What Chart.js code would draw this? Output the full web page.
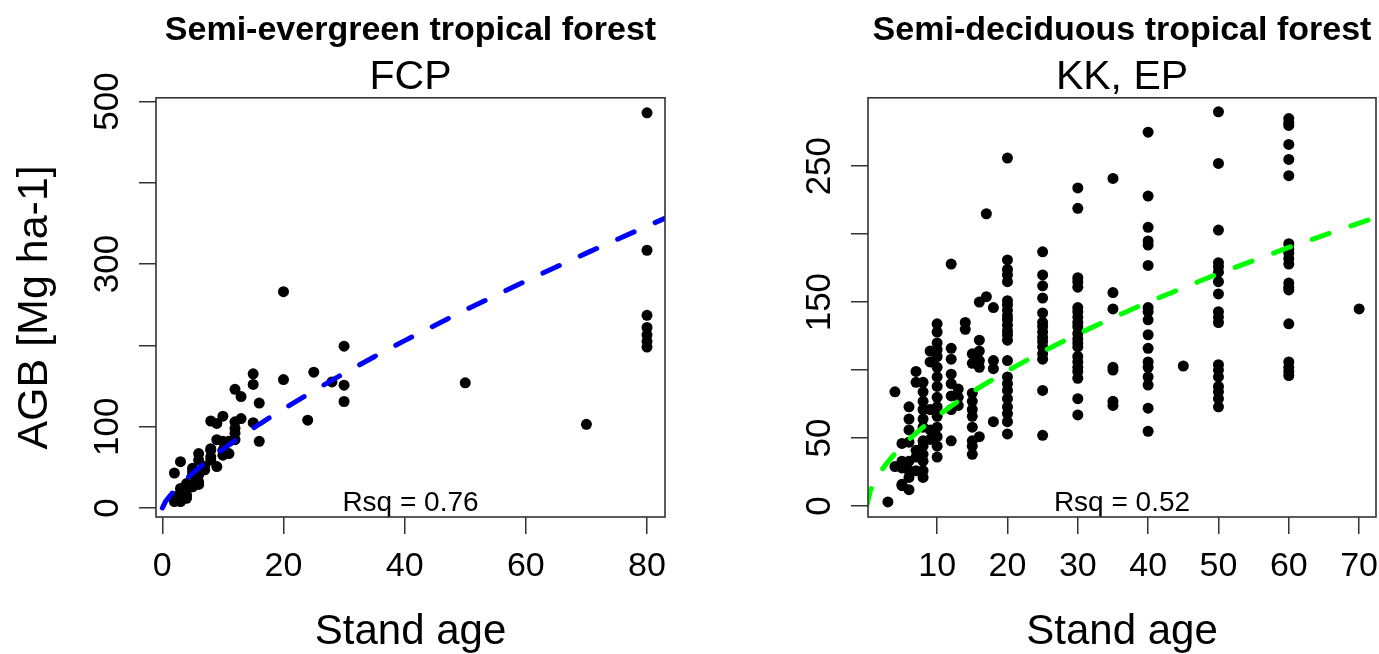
<!DOCTYPE html>
<html><head><meta charset="utf-8">
<script src="https://cdn.jsdelivr.net/npm/chart.js@4/dist/chart.umd.min.js"></script>
<style>
html,body{margin:0;padding:0;background:#fff;overflow:hidden;width:1379px;height:654px}
canvas{position:absolute;left:0;top:0}
</style></head><body>
<canvas id="c1" width="1440" height="654"></canvas>
<canvas id="c2" width="1440" height="654"></canvas>
<script>
// ---------- data: Semi-evergreen tropical forest (FCP) ----------
const fcpAge = [2,2,3,3,3,2,3,4,5,3,5,5,6,6,6,6,7,8,8,9,9,10,10,10,8,9,10,12,13,15,12,12,16,15,15,20,12,13,16,12,11,11,8,8,7,5,4,5,6,3,4,4,20,25,28,30,30,30,24,50,70,80,80,80,80,80,80,80];
const fcpAGB = [8,14,8,14,18,43,24,26,26,57,49,41,41,32,59,67,47,71,59,51,84,82,65,71,107,104,113,106,110,105,92,84,82,165,152,158,146,137,129,98,67,82,73,63,51,45,30,28,29,11,16,12,266,167,155,199,151,131,108,154,103,486,317,237,222,213,205,198];
const fcpFitAge = [0,0.5,1,2,3,4,6,8,10,13,16,20,25,30,35,40,50,60,70,80,85];
const fcpFitAGB = [0,7.5,12.7,21.4,29.1,36.2,49.1,61.1,72.3,88.1,103,121.9,144.2,165.6,186.1,205.9,243.5,279.2,313.5,346.7,362.8];
const fcpXTicks = [0,20,40,60,80];
const fcpYTicks = [0,100,200,300,400,500];
const fcpYTickLabels = ['0','100','','300','','500'];

// ---------- data: Semi-deciduous tropical forest (KK, EP) ----------
const kkAges = [3,4,5,6,7,8,9,10,12,13,14,15,16,17,18,20,25,30,35,40,45,50,60,70];
const kkAGB = [
  [3],
  [84,29],
  [46,33,28,16,15],
  [73,64,56,47,33,26,21,12],
  [99,91,41,36,26],
  [91,84,77,71,64,58,48,44,38,33,26,21],
  [114,106,71,56,49],
  [134,128,120,115,110,102,95,88,80,73,66,58,51,44,36],
  [178,116,108,97,90,81,71,48],
  [86,80,74],
  [135,130],
  [112,105,83,77,71,66,58,48,44,38],
  [150,122,114,107,102,51],
  [215,154],
  [146,107,101,62],
  [256,181,174,170,165,151,148,144,140,137,133,129,126,122,107,95,90,85,79,73,68,62,53],
  [187,170,162,153,142,135,132,128,124,121,117,112,108,85,52],
  [234,219,168,165,161,146,143,139,135,132,127,123,120,117,110,106,102,99,94,79,67],
  [241,157,145,102,100,77,74],
  [275,228,205,195,192,177,146,143,137,126,116,106,102,95,89,72,55],
  [103],
  [290,252,203,179,176,172,165,156,143,139,135,104,100,95,88,84,79,73],
  [285,282,280,266,255,243,193,189,186,182,178,164,161,159,134,106,102,99,96],
  [145]
];
const kkFitAge = [0,0.5,1,2,3,4,6,8,10,13,16,20,25,30,35,40,50,60,70,78];
const kkFitAGB = [0,11.3,17,25.6,32.5,38.5,48.9,58,66.1,77.2,87.2,99.5,113.6,126.5,138.6,150,171,190.2,208.1,222];
const kkXTicks = [10,20,30,40,50,60,70];
const kkYTicks = [0,50,100,150,200,250];
const kkYTickLabels = ['0','50','','150','','250'];

const FF = '"Liberation Sans", Arial, Helvetica, sans-serif';

const framePlugin = {
  id: 'frame',
  afterDatasetsDraw(chart, args, o) {
    const {ctx, chartArea: a} = chart;
    ctx.save();
    ctx.font = '28px ' + FF;
    ctx.fillStyle = '#000';
    ctx.textAlign = 'center';
    ctx.textBaseline = 'alphabetic';
    ctx.fillText(o.text, (a.left + a.right) / 2, a.bottom - 6);
    ctx.strokeStyle = '#333';
    ctx.lineWidth = 1.6;
    ctx.strokeRect(a.left, a.top, a.right - a.left, a.bottom - a.top);
    ctx.restore();
  }
};

function makeChart(id, c) {
  const pts = c.x.map((x, i) => ({x: x, y: c.y[i]}));
  const fit = c.fx.map((x, i) => ({x: x, y: c.fy[i]}));
  return new Chart(document.getElementById(id), {
    type: 'scatter',
    data: {datasets: [
      {type: 'line', data: fit, showLine: true, borderColor: c.lineColor, borderWidth: 5,
       borderDash: [18, 23], borderCapStyle: 'round', pointRadius: 0, fill: false,
       tension: 0, clip: 0, order: 0},
      {data: pts, backgroundColor: '#000', borderWidth: 0, pointRadius: 5.5,
       pointHoverRadius: 5.5, clip: false, order: 1}
    ]},
    options: {
      responsive: false, animation: false, events: [],
      layout: {padding: {left: c.padLeft, right: c.padRight, top: 0, bottom: 0}},
      plugins: {
        legend: {display: false}, tooltip: {enabled: false},
        title: {display: true, text: c.title, fullSize: false, color: '#000',
                font: {family: FF, size: 34, weight: 'bold', lineHeight: 1.2}, padding: {top: 10, bottom: 0}},
        subtitle: {display: true, text: c.sub, fullSize: false, color: '#000',
                font: {family: FF, size: 41, lineHeight: 1.0}, padding: {top: 6, bottom: 0}},
        frame: {text: c.rsq}
      },
      scales: {
        x: {type: 'linear', position: 'bottom', min: c.xmin, max: c.xmax,
            afterBuildTicks: s => { s.ticks = c.xt.map(v => ({value: v})); },
            afterFit: s => { s.height = 137; },
            grid: {drawOnChartArea: false, drawTicks: true, tickLength: 17, color: '#333', lineWidth: 1.5},
            border: {display: false},
            ticks: {autoSkip: false, maxRotation: 0, minRotation: 0, padding: 12, color: '#000',
                    font: {family: FF, size: 34}, callback: v => String(v)},
            title: {display: true, text: 'Stand age', color: '#000',
                    font: {family: FF, size: 42, lineHeight: 1}, padding: {top: 0, bottom: 1}}},
        y: {type: 'linear', position: 'left', min: c.ymin, max: c.ymax,
            afterBuildTicks: s => { s.ticks = c.yt.map(v => ({value: v})); },
            afterFit: s => { s.width = c.yW; },
            grid: {drawOnChartArea: false, drawTicks: true, tickLength: 17, color: '#333', lineWidth: 1.5},
            border: {display: false},
            ticks: {autoSkip: false, minRotation: 90, maxRotation: 90, crossAlign: 'center', padding: 1,
                    color: '#000', font: {family: FF, size: 35}, callback: (v, i) => c.ytl[i]},
            title: {display: !!c.ytitle, text: c.ytitle || '', color: '#000',
                    font: {family: FF, size: 43, lineHeight: 1}, padding: {top: 14, bottom: 0}}}
      }
    },
    plugins: [framePlugin]
  });
}

makeChart('c1', {
  x: fcpAge, y: fcpAGB, fx: fcpFitAge, fy: fcpFitAGB, lineColor: '#0000ff',
  title: 'Semi-evergreen tropical forest', sub: 'FCP', rsq: 'Rsq = 0.76',
  xmin: -1.04, xmax: 82.97, ymin: -11.05, ymax: 504.5,
  xt: fcpXTicks, yt: fcpYTicks, ytl: fcpYTickLabels,
  padLeft: 0, padRight: 1440 - 665, yW: 156, ytitle: 'AGB [Mg ha-1]'
});

const kkX = [], kkY = [];
kkAges.forEach((a, i) => kkAGB[i].forEach(v => { kkX.push(a); kkY.push(v); }));

makeChart('c2', {
  x: kkX, y: kkY, fx: kkFitAge, fy: kkFitAGB, lineColor: '#00ff00',
  title: 'Semi-deciduous tropical forest', sub: 'KK, EP', rsq: 'Rsq = 0.52',
  xmin: 0.17, xmax: 72.4, ymin: -8.08, ymax: 300.3,
  xt: kkXTicks, yt: kkYTicks, ytl: kkYTickLabels,
  padLeft: 690, padRight: 1440 - 1376, yW: 178, ytitle: ''
});
</script>
</body></html>
